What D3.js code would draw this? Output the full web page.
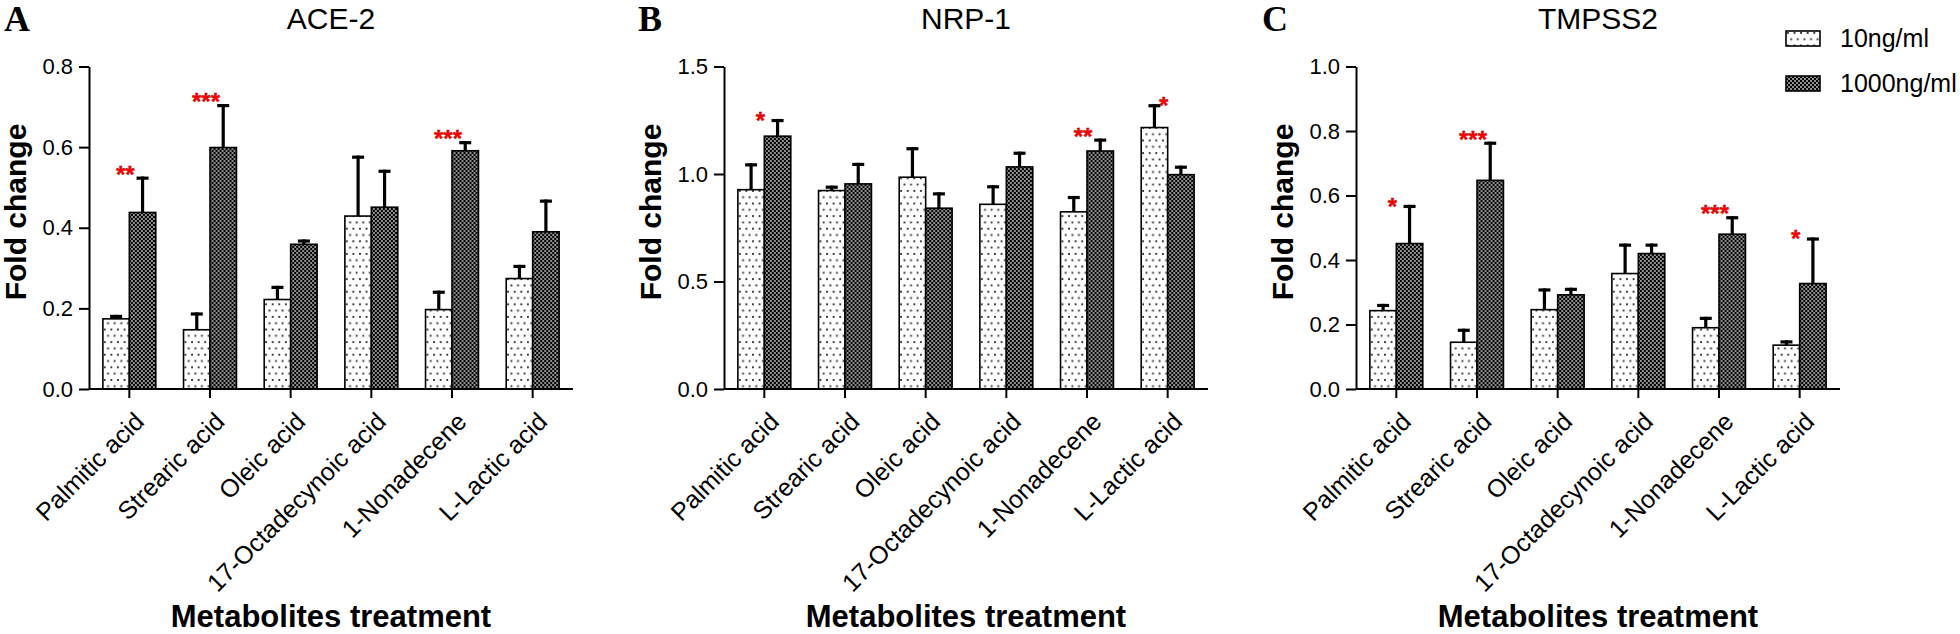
<!DOCTYPE html>
<html>
<head>
<meta charset="utf-8">
<script src="https://cdn.jsdelivr.net/npm/d3@7"></script>
<style>
  html, body { margin: 0; padding: 0; background: #fff; }
  svg { display: block; }
  text { font-family: "Liberation Sans", Arial, sans-serif; fill: #000; }
</style>
</head>
<body>
<svg id="chart" width="1960" height="634"></svg>
<script>
// ---------------- data ----------------
const categories = ["Palmitic acid", "Strearic acid", "Oleic acid", "17-Octadecynoic acid", "1-Nonadecene", "L-Lactic acid"];
const seriesNames = ["10ng/ml", "1000ng/ml"];

// Panel A: ACE-2
const aceLow = [0.174, 0.147, 0.222, 0.429, 0.197, 0.274];
const aceLowErr = [0.010, 0.043, 0.034, 0.150, 0.047, 0.034];
const aceHigh = [0.438, 0.599, 0.359, 0.451, 0.591, 0.390];
const aceHighErr = [0.089, 0.108, 0.012, 0.093, 0.024, 0.080];
const aceSig = ["**", "***", "", "", "***", ""];
const aceTicks = [0, 0.2, 0.4, 0.6, 0.8];

// Panel B: NRP-1
const nrpLow = [0.927, 0.923, 0.985, 0.859, 0.824, 1.216];
const nrpLowErr = [0.123, 0.023, 0.140, 0.089, 0.074, 0.109];
const nrpHigh = [1.176, 0.954, 0.841, 1.033, 1.107, 0.997];
const nrpHighErr = [0.080, 0.098, 0.074, 0.071, 0.058, 0.042];
const nrpSig = ["*", "", "", "", "**", "*"];
const nrpTicks = [0, 0.5, 1.0, 1.5];

// Panel C: TMPSS2
const tmpLow = [0.243, 0.145, 0.246, 0.358, 0.190, 0.136];
const tmpLowErr = [0.021, 0.042, 0.066, 0.093, 0.034, 0.015];
const tmpHigh = [0.451, 0.647, 0.292, 0.420, 0.480, 0.327];
const tmpHighErr = [0.120, 0.120, 0.022, 0.031, 0.056, 0.143];
const tmpSig = ["*", "***", "", "", "***", "*"];
const tmpTicks = [0, 0.2, 0.4, 0.6, 0.8, 1.0];

// ---------------- drawing ----------------
const svg = d3.select("#chart");
const defs = svg.append("defs");

// dotted pattern (10ng/ml)
const pLow = defs.append("pattern").attr("id", "dots").attr("patternUnits", "userSpaceOnUse")
  .attr("width", 6.6).attr("height", 12.6);
pLow.append("rect").attr("width", 6.6).attr("height", 12.6).attr("fill", "#fff");
pLow.append("rect").attr("x", 1).attr("y", 1).attr("width", 1.8).attr("height", 1.8).attr("fill", "#222");
pLow.append("rect").attr("x", 4.3).attr("y", 7.3).attr("width", 1.8).attr("height", 1.8).attr("fill", "#222");

// checker pattern (1000ng/ml)
const pHigh = defs.append("pattern").attr("id", "checks").attr("patternUnits", "userSpaceOnUse")
  .attr("width", 4).attr("height", 4);
pHigh.append("rect").attr("width", 4).attr("height", 4).attr("fill", "#000");
pHigh.append("rect").attr("x", 0.25).attr("y", 0.25).attr("width", 1.5).attr("height", 1.5).attr("fill", "#fff");
pHigh.append("rect").attr("x", 2.25).attr("y", 2.25).attr("width", 1.5).attr("height", 1.5).attr("fill", "#fff");

const fills = ["url(#dots)", "url(#checks)"];

const yTop = 66.5, yBottom = 389, plotW = 484;

const panels = [
  { letter: "A", letterX: 4, title: "ACE-2", x0: 89, low: aceLow, lowErr: aceLowErr, high: aceHigh, highErr: aceHighErr, sig: aceSig, ticks: aceTicks },
  { letter: "B", letterX: 638, title: "NRP-1", x0: 724, low: nrpLow, lowErr: nrpLowErr, high: nrpHigh, highErr: nrpHighErr, sig: nrpSig, ticks: nrpTicks },
  { letter: "C", letterX: 1262, title: "TMPSS2", x0: 1356, low: tmpLow, lowErr: tmpLowErr, high: tmpHigh, highErr: tmpHighErr, sig: tmpSig, ticks: tmpTicks }
];

panels.forEach(p => {
  const g = svg.append("g");
  const x = d3.scaleBand().domain(categories).range([p.x0, p.x0 + plotW]).paddingInner(0.344).paddingOuter(0.172);
  const x1 = d3.scaleBand().domain(seriesNames).range([0, x.bandwidth()]).padding(0);
  const y = d3.scaleLinear().domain([0, d3.max(p.ticks)]).range([yBottom, yTop]);

  const rows = categories.map((c, i) => ({
    cat: c,
    vals: [
      { s: seriesNames[0], v: p.low[i], e: p.lowErr[i], k: 0 },
      { s: seriesNames[1], v: p.high[i], e: p.highErr[i], k: 1 }
    ],
    sig: p.sig[i]
  }));

  // bars
  const grp = g.selectAll(".grp").data(rows).join("g")
    .attr("transform", d => `translate(${x(d.cat)},0)`);
  grp.selectAll("rect.bar").data(d => d.vals).join("rect")
    .attr("class", "bar")
    .attr("x", d => x1(d.s))
    .attr("y", d => y(d.v))
    .attr("width", x1.bandwidth())
    .attr("height", d => y(0) - y(d.v))
    .attr("fill", d => fills[d.k])
    .attr("stroke", "#000").attr("stroke-width", 1.6);

  // error bars (upper only)
  grp.selectAll("line.err").data(d => d.vals).join("line")
    .attr("class", "err")
    .attr("x1", d => x1(d.s) + x1.bandwidth() / 2)
    .attr("x2", d => x1(d.s) + x1.bandwidth() / 2)
    .attr("y1", d => y(d.v))
    .attr("y2", d => y(d.v + d.e))
    .attr("stroke", "#000").attr("stroke-width", 3.2);
  grp.selectAll("line.cap").data(d => d.vals).join("line")
    .attr("class", "cap")
    .attr("x1", d => x1(d.s) + x1.bandwidth() / 2 - 6)
    .attr("x2", d => x1(d.s) + x1.bandwidth() / 2 + 6)
    .attr("y1", d => y(d.v + d.e) + 1.6)
    .attr("y2", d => y(d.v + d.e) + 1.6)
    .attr("stroke", "#000").attr("stroke-width", 3.2);

  // significance stars
  grp.filter(d => d.sig).append("text")
    .attr("x", x.bandwidth() / 2 - 4)
    .attr("y", d => d3.min(d.vals, v => y(v.v + v.e)) - (d.sig.length > 1 ? 8 : 4) + 14)
    .attr("text-anchor", "middle")
    .style("font-size", "24px").style("font-weight", "bold")
    .style("fill", "#ff0000").attr("stroke", "#a00000").attr("stroke-width", 0.35)
    .text(d => d.sig);

  // axes
  const yAxis = g.append("g").attr("transform", `translate(${p.x0},0)`)
    .call(d3.axisLeft(y).tickValues(p.ticks).tickFormat(d3.format(".1f")).tickSize(10).tickPadding(6).tickSizeOuter(0));
  yAxis.selectAll("path, line").attr("stroke", "#000").attr("stroke-width", 2);
  yAxis.selectAll("text").style("font-size", "22px").attr("fill", "#000");

  const xAxis = g.append("g").attr("transform", `translate(0,${yBottom})`)
    .call(d3.axisBottom(x).tickSize(9).tickSizeOuter(0));
  xAxis.select("path").attr("d", `M${p.x0},0H${p.x0 + plotW}`);
  xAxis.selectAll("path, line").attr("stroke", "#000").attr("stroke-width", 2);
  xAxis.selectAll("text")
    .attr("x", 0).attr("y", 0).attr("dy", "0.35em")
    .attr("transform", "translate(10,28) rotate(-45)")
    .attr("text-anchor", "end")
    .style("font-size", "25px").attr("fill", "#000");

  // titles & labels
  const cx = p.x0 + plotW / 2;
  g.append("text").attr("x", cx).attr("y", 29).attr("text-anchor", "middle")
    .style("font-size", "30px").text(p.title);
  g.append("text").attr("x", p.letterX).attr("y", 31)
    .style("font-family", "'Liberation Serif', 'Times New Roman', serif")
    .style("font-size", "36px").style("font-weight", "bold").text(p.letter);
  g.append("text")
    .attr("transform", `translate(${p.x0 - 63},212) rotate(-90)`)
    .attr("text-anchor", "middle")
    .style("font-size", "30px").style("font-weight", "bold").text("Fold change");
  g.append("text").attr("x", cx).attr("y", 627).attr("text-anchor", "middle")
    .style("font-size", "31px").style("font-weight", "bold").text("Metabolites treatment");
});

// legend
const legend = svg.append("g");
const legendRows = seriesNames.map((s, i) => ({ s, k: i }));
const lg = legend.selectAll("g").data(legendRows).join("g")
  .attr("transform", d => `translate(1786,${31 + d.k * 45})`);
lg.append("rect").attr("width", 34).attr("height", 15)
  .attr("fill", d => fills[d.k]).attr("stroke", "#000").attr("stroke-width", 1.6);
lg.append("text").attr("x", 54).attr("y", 16)
  .style("font-size", "25px").text(d => d.s);
</script>
</body>
</html>
